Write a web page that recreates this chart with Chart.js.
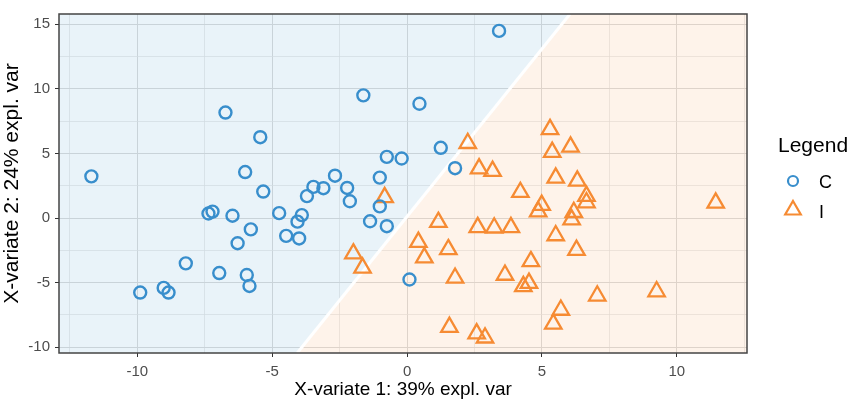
<!DOCTYPE html>
<html>
<head>
<meta charset="utf-8">
<script src="https://cdn.jsdelivr.net/npm/chart.js@4.4.1/dist/chart.umd.min.js"></script>
<style>
  html, body { margin: 0; padding: 0; background: #fff; }
  #wrap { width: 851px; height: 407px; position: relative; }
</style>
</head>
<body>
<div id="wrap"><canvas id="plsda"></canvas></div>
<script>
// axis limits
const xMin = -12.9, xMax = 12.6;
const yMin = -10.45, yMax = 15.8;

// prediction boundary between the two class regions
const boundaryX = [-4.07, 6.04];
const boundaryY = [yMin, yMax];

// class C (circles)
const cX = [-11.70, -6.73, -5.44, -6.00, -5.33, -1.62, 0.46, 3.41, 1.25, -0.75,
            -0.20, 1.78, -1.01, -2.67, -3.47, -3.10, -3.71, -2.22, -2.12, -1.01,
            -7.36, -7.21, -6.47, -5.79, -6.28, -8.20, -6.96, -5.94, -5.84, -9.89,
            -9.02, -8.84, -4.74, -3.90, -4.06, -4.48, -4.00, -1.37, -0.75, 0.09];
const cY = [3.23, 8.17, 6.26, 3.56, 2.05, 9.50, 8.85, 14.49, 5.44, 4.74,
            4.61, 3.86, 3.13, 3.28, 2.41, 2.31, 1.70, 2.33, 1.30, 0.90,
            0.35, 0.50, 0.18, -0.88, -1.95, -3.51, -4.26, -4.41, -5.26, -5.77,
            -5.41, -5.77, 0.38, 0.23, -0.28, -1.38, -1.58, -0.25, -0.63, -4.76];

// class I (triangles)
const iX = [-0.83, 5.30, 2.25, 5.38, 6.06, 2.67, 3.17, 5.51, 6.31, 4.20,
            6.65, 6.65, 11.44, 4.99, 4.86, 6.18, 6.10, 1.16, 2.62, 3.23,
            3.85, 5.51, 0.42, 1.53, 0.64, 6.28, -1.99, -1.65, 4.59, 1.78,
            3.63, 4.52, 4.31, 7.05, 9.25, 5.70, 5.42, 1.57, 2.58, 2.89];
const iY = [1.60, 6.87, 5.79, 5.11, 5.51, 3.83, 3.63, 3.11, 2.88, 2.00,
            1.70, 1.20, 1.18, 1.00, 0.50, 0.45, -0.12, -0.32, -0.72, -0.75,
            -0.72, -1.35, -1.86, -2.43, -3.06, -2.48, -2.76, -3.86, -3.36, -4.64,
            -4.41, -5.04, -5.29, -6.02, -5.69, -7.12, -8.20, -8.45, -8.95, -9.27];

const classNames = ['C', 'I'];
const blue = '#388ECC', orange = '#F68B33';

const toPts = (xs, ys) => xs.map((x, i) => ({x: x, y: ys[i]}));

const fontFam = '"Liberation Sans", Arial, sans-serif';
const isMajor = v => Math.abs(v % 5) < 1e-9;

// panel border + legend drawn on top
const framePlugin = {
  id: 'frame',
  afterDraw(chart) {
    const {ctx, chartArea: a} = chart;
    ctx.save();
    ctx.strokeStyle = '#444';
    ctx.lineWidth = 1.5;
    ctx.strokeRect(a.left, a.top, a.right - a.left, a.bottom - a.top);

    ctx.fillStyle = '#000';
    ctx.textBaseline = 'alphabetic';
    ctx.font = '21px ' + fontFam;
    ctx.fillText('Legend', 778, 152);

    ctx.font = '18px ' + fontFam;
    ctx.fillText(classNames[0], 819, 188);
    ctx.fillText(classNames[1], 819, 218);

    ctx.lineWidth = 2.2;
    ctx.strokeStyle = blue;
    ctx.beginPath();
    ctx.arc(793, 181, 5, 0, Math.PI * 2);
    ctx.stroke();

    const r = 9, cx = 793, cy = 210;
    ctx.strokeStyle = orange;
    ctx.beginPath();
    ctx.moveTo(cx, cy - r);
    ctx.lineTo(cx + r * Math.sin(Math.PI / 3), cy + r / 2);
    ctx.lineTo(cx - r * Math.sin(Math.PI / 3), cy + r / 2);
    ctx.closePath();
    ctx.stroke();
    ctx.restore();
  }
};

new Chart(document.getElementById('plsda'), {
  type: 'scatter',
  data: {
    datasets: [
      {
        label: classNames[0],
        data: toPts(cX, cY),
        pointStyle: 'circle',
        pointRadius: 6,
        pointBorderWidth: 2.4,
        pointBorderColor: blue,
        pointBackgroundColor: 'rgba(0,0,0,0)',
        order: 0
      },
      {
        label: classNames[1],
        data: toPts(iX, iY),
        pointStyle: 'triangle',
        pointRadius: 9.5,
        pointBorderWidth: 2.3,
        pointBorderColor: orange,
        pointBackgroundColor: 'rgba(0,0,0,0)',
        order: 0
      },
      {
        label: 'boundary',
        data: toPts(boundaryX, boundaryY),
        showLine: true,
        borderColor: '#ffffff',
        borderWidth: 3,
        pointRadius: 0,
        fill: false,
        order: 1
      },
      {
        label: 'C region',
        data: [{x: xMin, y: yMin}, {x: boundaryX[0], y: boundaryY[0]}, {x: boundaryX[1], y: boundaryY[1]}],
        showLine: true,
        borderWidth: 0,
        borderColor: 'rgba(0,0,0,0)',
        pointRadius: 0,
        fill: 'end',
        backgroundColor: 'rgba(56,142,204,0.11)',
        order: 2
      },
      {
        label: 'I region',
        data: [{x: boundaryX[0], y: boundaryY[0]}, {x: boundaryX[1], y: boundaryY[1]}, {x: xMax, y: yMax}],
        showLine: true,
        borderWidth: 0,
        borderColor: 'rgba(0,0,0,0)',
        pointRadius: 0,
        fill: 'start',
        backgroundColor: 'rgba(246,139,51,0.10)',
        order: 2
      }
    ]
  },
  options: {
    responsive: true,
    maintainAspectRatio: false,
    animation: false,
    events: [],
    layout: { padding: { top: 4, right: 104, left: 0, bottom: 0 } },
    plugins: {
      legend: { display: false },
      tooltip: { enabled: false }
    },
    scales: {
      x: {
        type: 'linear',
        min: xMin,
        max: xMax,
        afterFit: s => { s.height = 54; },
        border: { display: false },
        grid: {
          color: c => isMajor(c.tick.value) ? '#dcdcdc' : '#e4e4e4',
          lineWidth: c => isMajor(c.tick.value) ? 1 : 0.7,
          tickLength: 4,
          tickColor: c => isMajor(c.tick.value) ? '#333' : 'rgba(0,0,0,0)'
        },
        ticks: {
          stepSize: 2.5,
          includeBounds: false,
          autoSkip: false,
          maxRotation: 0,
          padding: 6,
          color: '#4d4d4d',
          font: { family: fontFam, size: 15 },
          callback: v => isMajor(v) ? String(v) : ''
        },
        title: {
          display: true,
          text: 'X-variate 1: 39% expl. var',
          color: '#000',
          font: { family: fontFam, size: 19 },
          padding: { top: 0, bottom: 6 }
        }
      },
      y: {
        type: 'linear',
        min: yMin,
        max: yMax,
        afterFit: s => { s.width = 59; },
        border: { display: false },
        grid: {
          color: c => isMajor(c.tick.value) ? '#dcdcdc' : '#e4e4e4',
          lineWidth: c => isMajor(c.tick.value) ? 1 : 0.7,
          tickLength: 4,
          tickColor: c => isMajor(c.tick.value) ? '#333' : 'rgba(0,0,0,0)'
        },
        ticks: {
          stepSize: 2.5,
          includeBounds: false,
          autoSkip: false,
          padding: 5,
          color: '#4d4d4d',
          font: { family: fontFam, size: 15 },
          callback: v => isMajor(v) ? String(v) : ''
        },
        title: {
          display: true,
          text: 'X-variate 2: 24% expl. var',
          color: '#000',
          font: { family: fontFam, size: 21 },
          padding: { top: 0, bottom: 0 }
        }
      }
    }
  },
  plugins: [framePlugin]
});
</script>
</body>
</html>
